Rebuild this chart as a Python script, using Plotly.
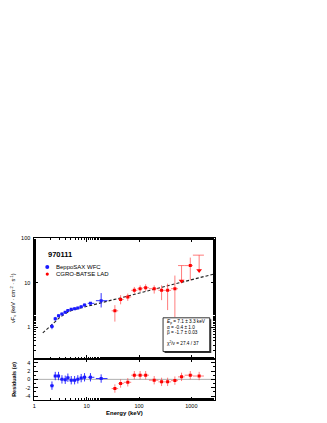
import plotly.graph_objects as go
import numpy as np

W, H = 327, 423
OFF = 8  # page body margin

# ---------------- data ----------------
# BeppoSAX WFC
wfc_e   = [2.17, 2.51, 2.9, 3.37, 3.89, 4.37, 5.07, 5.88, 6.77, 7.85, 9.1, 11.8, 18.9]
wfc_elo = [2.0, 2.35, 2.7, 3.1, 3.6, 4.1, 4.7, 5.45, 6.3, 7.3, 8.4, 10.5, 15.0]
wfc_ehi = [2.35, 2.7, 3.1, 3.6, 4.1, 4.7, 5.45, 6.3, 7.3, 8.4, 9.9, 14.0, 25.0]
wfc_f   = [1.05, 1.56, 1.82, 2.0, 2.19, 2.39, 2.55, 2.64, 2.74, 2.93, 3.19, 3.47, 3.98]
wfc_flo = [0.91, 1.42, 1.68, 1.86, 2.05, 2.24, 2.40, 2.49, 2.58, 2.76, 3.0, 3.25, 2.8]
wfc_fhi = [1.20, 1.72, 1.96, 2.14, 2.33, 2.54, 2.70, 2.80, 2.90, 3.10, 3.4, 3.70, 5.9]
wfc_res = [-1.5, 0.8, 0.8, 0.0, -0.1, 0.4, -0.2, -0.2, 0.0, 0.3, 0.5, 0.5, 0.2]

# CGRO-BATSE LAD
lad_e   = [34.6, 44.5, 61, 81.4, 105, 134, 195, 270, 352, 485, 650, 955, 1410]
lad_elo = [30, 40, 51, 71, 93, 118, 155, 235, 310, 410, 557, 745, 1070]
lad_ehi = [40, 51, 71, 93, 118, 155, 235, 310, 410, 557, 745, 1070, 1740]
lad_f   = [2.36, 4.24, 4.83, 6.8, 7.4, 7.8, 7.4, 6.8, 6.8, 7.4, 24.5, 24.5, 42]
lad_flo = [1.35, 3.3, 3.95, 5.75, 6.25, 6.6, 5.75, 4.1, 2.45, 1.7, None, 11.4, None]
lad_fhi = [3.16, 5.3, 5.75, 8.1, 8.8, 9.3, 8.8, 8.8, 9.6, 14.6, None, 37, None]
lad_ul  = [0, 0, 0, 0, 0, 0, 0, 0, 0, 0, 1, 0, 1]
lad_res = [-2.2, -1.0, -0.7, 1.0, 1.0, 1.0, -0.2, -0.6, -0.6, -0.3, 0.6, 1.0, 0.8]

# Band model curve
model_e = [1.45, 2, 2.5, 3, 4, 5, 6, 8, 10, 20, 50, 100, 200, 500, 1000, 2800]
model_f = [0.75, 1.07, 1.36, 1.64, 2.07, 2.37, 2.53, 2.76, 2.95, 3.63, 4.78, 5.9, 7.25, 9.54, 11.74, 16.0]

ul_arrow = 0.45  # arrow length factor (log display)

BLUE = "#1a1aff"
RED = "#ff0000"
RED_ERR = "rgba(255,60,60,0.75)"
FONT = "Liberation Sans, Arial, Helvetica, sans-serif"

def px(x):
    return (x - OFF) / W

def py(y):
    return 1 - (y - OFF) / H

fig = go.Figure()

# model
fig.add_trace(go.Scatter(x=model_e, y=model_f, mode="lines",
                         line=dict(color="#222", width=1.1, dash="3px,2px"),
                         xaxis="x2", yaxis="y", showlegend=False))

# WFC data
we = np.array(wfc_e); wf = np.array(wfc_f)
fig.add_trace(go.Scatter(
    x=wfc_e, y=wfc_f, mode="markers", xaxis="x2", yaxis="y",
    marker=dict(color=BLUE, size=3, symbol="square"),
    error_x=dict(type="data", array=list(np.array(wfc_ehi) - we), arrayminus=list(we - np.array(wfc_elo)),
                 color=BLUE, thickness=0.9, width=0),
    error_y=dict(type="data", array=list(np.array(wfc_fhi) - wf), arrayminus=list(wf - np.array(wfc_flo)),
                 color=BLUE, thickness=0.9, width=0),
    showlegend=False))

# LAD data (regular points)
idx = [i for i in range(len(lad_e)) if not lad_ul[i]]
fig.add_trace(go.Scatter(
    x=[lad_e[i] for i in idx], y=[lad_f[i] for i in idx], mode="markers", xaxis="x2", yaxis="y",
    marker=dict(color=RED, size=3, symbol="square"),
    error_x=dict(type="data", array=[lad_ehi[i] - lad_e[i] for i in idx],
                 arrayminus=[lad_e[i] - lad_elo[i] for i in idx], color=RED_ERR, thickness=0.9, width=0),
    error_y=dict(type="data", array=[lad_fhi[i] - lad_f[i] for i in idx],
                 arrayminus=[lad_f[i] - lad_flo[i] for i in idx], color=RED_ERR, thickness=0.9, width=0),
    showlegend=False))

# LAD upper limits
uidx = [i for i in range(len(lad_e)) if lad_ul[i]]
fig.add_trace(go.Scatter(
    x=[lad_e[i] for i in uidx], y=[lad_f[i] for i in uidx], mode="markers", xaxis="x2", yaxis="y",
    marker=dict(color="rgba(0,0,0,0)", size=1),
    error_x=dict(type="data", array=[lad_ehi[i] - lad_e[i] for i in uidx],
                 arrayminus=[lad_e[i] - lad_elo[i] for i in uidx], color=RED_ERR, thickness=0.9, width=0),
    error_y=dict(type="data", array=[0 for i in uidx],
                 arrayminus=[lad_f[i] * (1 - ul_arrow) for i in uidx], color=RED_ERR, thickness=0.9, width=0),
    showlegend=False))
fig.add_trace(go.Scatter(
    x=[lad_e[i] for i in uidx], y=[lad_f[i] * ul_arrow for i in uidx], mode="markers", xaxis="x2", yaxis="y",
    marker=dict(color=RED, size=5, symbol="triangle-down"), showlegend=False))

# residuals
for e, lo, hi, r, col, ecol in [(wfc_e, wfc_elo, wfc_ehi, wfc_res, BLUE, BLUE),
                                (lad_e, lad_elo, lad_ehi, lad_res, RED, RED_ERR)]:
    ea = np.array(e)
    fig.add_trace(go.Scatter(
        x=e, y=r, mode="markers", xaxis="x", yaxis="y2",
        marker=dict(color=col, size=3, symbol="square"),
        error_x=dict(type="data", array=list(np.array(hi) - ea), arrayminus=list(ea - np.array(lo)),
                     color=ecol, thickness=0.9, width=0),
        error_y=dict(type="data", array=[1] * len(e), color=ecol, thickness=0.9, width=0),
        showlegend=False))

# ---------------- axes ----------------
x0, x1 = px(32.5), px(214)
main_bot, main_top = py(358), py(237)
res_bot, res_top = py(400), py(358)

tickfont = dict(family=FONT, size=5.5, color="black")
common = dict(showline=True, linecolor="black", linewidth=0.9, mirror="ticks",
              ticks="inside", ticklen=3.5, tickwidth=0.8, tickcolor="black",
              showgrid=False, zeroline=False, tickfont=tickfont)

fig.update_layout(
    width=W, height=H, margin=dict(l=0, r=0, t=0, b=0),
    paper_bgcolor="white", plot_bgcolor="white",
    xaxis=dict(domain=[x0, x1], anchor="y2", type="log", range=[0, np.log10(2800)],
               tickvals=[1, 10, 100, 1000], ticktext=["1", "10", "100", "1000"],
               minor=dict(ticks="inside", ticklen=2, tickwidth=0.7, tickcolor="black", showgrid=False),
               **common),
    xaxis2=dict(domain=[x0, x1], anchor="y", type="log", matches="x", range=[0, np.log10(2800)],
                tickvals=[1, 10, 100, 1000], showticklabels=False,
                minor=dict(ticks="inside", ticklen=2, tickwidth=0.7, tickcolor="black", showgrid=False),
                **common),
    yaxis=dict(domain=[main_bot, main_top], anchor="x2", type="log", range=[np.log10(0.2), 2],
               tickvals=[1, 10, 100], ticktext=["1", "10", "100"], ticklabelstandoff=2,
               minor=dict(ticks="inside", ticklen=2, tickwidth=0.7, tickcolor="black", showgrid=False),
               **common),
    yaxis2=dict(domain=[res_bot, res_top], anchor="x", range=[-5, 5],
                tickvals=[-4, -2, 0, 2, 4], ticktext=["-4", "-2", "0", "2", "4"], ticklabelstandoff=2,
                minor=dict(dtick=1, ticks="inside", ticklen=2, tickwidth=0.7, tickcolor="black"),
                **common),
)

shapes = [
    dict(type="line", xref="x domain", yref="y2", x0=0, x1=1, y0=0, y1=0,
         line=dict(color="#9a9a9a", width=0.8), layer="below"),
    # fit box shadow + box
    dict(type="rect", xref="paper", yref="paper", x0=px(163.5), x1=px(210.5), y0=py(352.5), y1=py(318.5),
         line=dict(width=0), fillcolor="#333"),
    dict(type="rect", xref="paper", yref="paper", x0=px(162), x1=px(209), y0=py(351), y1=py(317),
         line=dict(color="black", width=0.8), fillcolor="white"),
    # legend symbols
    dict(type="circle", xref="paper", yref="paper", xsizemode="pixel", ysizemode="pixel",
         xanchor=px(45.5), yanchor=py(265.8), x0=-2, x1=2, y0=-2, y1=2,
         fillcolor=BLUE, line=dict(width=0)),
    dict(type="circle", xref="paper", yref="paper", xsizemode="pixel", ysizemode="pixel",
         xanchor=px(45.5), yanchor=py(273), x0=-1.6, x1=1.6, y0=-1.6, y1=1.6,
         fillcolor=RED, line=dict(width=0)),
]
fig.update_layout(shapes=shapes)

ann = []
def text(x, y, s, size, bold=False, xanchor="left", angle=0, color="black"):
    ann.append(dict(x=px(x), y=py(y), xref="paper", yref="paper", text=("<b>%s</b>" % s) if bold else s,
                    showarrow=False, xanchor=xanchor, yanchor="middle", textangle=angle,
                    font=dict(family=FONT, size=size, color=color)))

text(44.5, 253, "970111", 7.5, bold=True)
text(52.5, 265.8, "BeppoSAX WFC", 6)
text(52.5, 273, "CGRO-BATSE LAD", 6)

text(163.5, 321.7, "<i>E</i><sub>p</sub> = 7.1 ± 3.3 keV", 4.7)
text(163.5, 326.7, "α = -0.4 ± 1.0", 4.7)
text(163.5, 331.3, "β = -1.7 ± 0.03", 4.7)
text(163.5, 342.3, "χ<sup>2</sup>/ν = 27.4 / 37", 4.7)

text(123, 413, "Energy (keV)", 6, bold=True, xanchor="center")
text(12, 378.5, "Residuals (σ)", 5.5, bold=True, xanchor="center", angle=-90)
text(12, 297, "νF<sub>ν</sub> (keV · cm<sup>-2</sup> · s<sup>-1</sup>)", 5.5, xanchor="center", angle=-90)

fig.update_layout(annotations=ann)

fig.write_html("out.html")
